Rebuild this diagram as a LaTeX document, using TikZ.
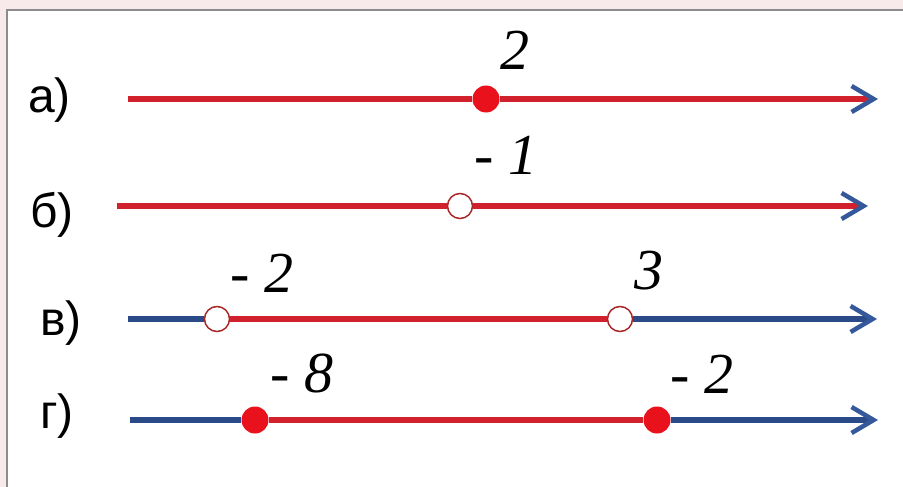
\documentclass[tikz,border=0pt]{standalone}
\usepackage{fontspec}
\setmainfont{Liberation Serif}
\newfontfamily\lblfont{Liberation Sans}
\usetikzlibrary{arrows.meta}
\definecolor{bgpink}{HTML}{F8EAEA}
\definecolor{frame}{HTML}{8C8C8C}
\definecolor{lnred}{HTML}{D0212D}
\definecolor{lnblue}{HTML}{2A4A88}
\definecolor{tipblue}{HTML}{34589A}
\definecolor{dotred}{HTML}{E8111C}
\definecolor{ringred}{HTML}{A8282A}
\tikzset{
  redseg/.style={draw=lnred, line width=5.5pt},
  blueseg/.style={draw=lnblue, line width=5.5pt},
  ray/.style={-{Straight Barb[length=22pt,width=26pt,line width=4.5pt,color=tipblue]}},
  dotf/.style={circle, fill=dotred, minimum size=27pt, inner sep=0pt},
  doto/.style={circle, fill=white, draw=ringred, line width=1.5pt, minimum size=25pt, inner sep=0pt},
  num/.style={font=\fontsize{58}{62}\selectfont\itshape, inner sep=0pt, anchor=base west},
  lbl/.style={font=\lblfont\fontsize{48}{52}\selectfont, inner sep=0pt, anchor=base west}
}
\begin{document}
\begin{tikzpicture}[x=1pt,y=-1pt]
\useasboundingbox (0,0) rectangle (903,487);
\fill[bgpink] (0,0) rectangle (903,487);
\fill[white] (7,10) rectangle (903,487);
\draw[frame, line width=2pt] (7,487) -- (7,10) -- (903,10);

% labels
\node[lbl] (la) at (28,113) {а)};
\node[lbl] (lb) at (30,227) {б)};
\node[lbl] (lv) at (40,335) {в)};
\node[lbl] (lg) at (40,428) {г)};

% line a
\coordinate (sa) at (128,99);
\coordinate (ea) at (878,99);
\node[dotf] (pa) at (486,99) {};
\draw[redseg] (sa) -- (pa);
\draw[redseg,ray] (pa) -- (ea);
\node[num] (na) at (500,70) {2};

% line b
\coordinate (sb) at (117,206);
\coordinate (eb) at (868,206);
\node[doto] (pb) at (460,206) {};
\draw[redseg] (sb) -- (pb);
\draw[redseg,ray] (pb) -- (eb);
\node[num] (nb) at (474,174) {- 1};

% line v
\coordinate (sv) at (128,319);
\coordinate (ev) at (877,319);
\node[doto] (pv1) at (217,319) {};
\node[doto] (pv2) at (620,319) {};
\draw[blueseg] (sv) -- (pv1);
\draw[redseg] (pv1) -- (pv2);
\draw[blueseg,ray] (pv2) -- (ev);
\node[num] (nv1) at (230,292) {- 2};
\node[num] (nv2) at (634,289) {3};

% line g
\coordinate (sg) at (130,420);
\coordinate (eg) at (878,420);
\node[dotf] (pg1) at (255,420) {};
\node[dotf] (pg2) at (657,420) {};
\draw[blueseg] (sg) -- (pg1);
\draw[redseg] (pg1) -- (pg2);
\draw[blueseg,ray] (pg2) -- (eg);
\node[num] (ng1) at (270,392) {- 8};
\node[num] (ng2) at (670,393) {- 2};
\end{tikzpicture}
\end{document}
